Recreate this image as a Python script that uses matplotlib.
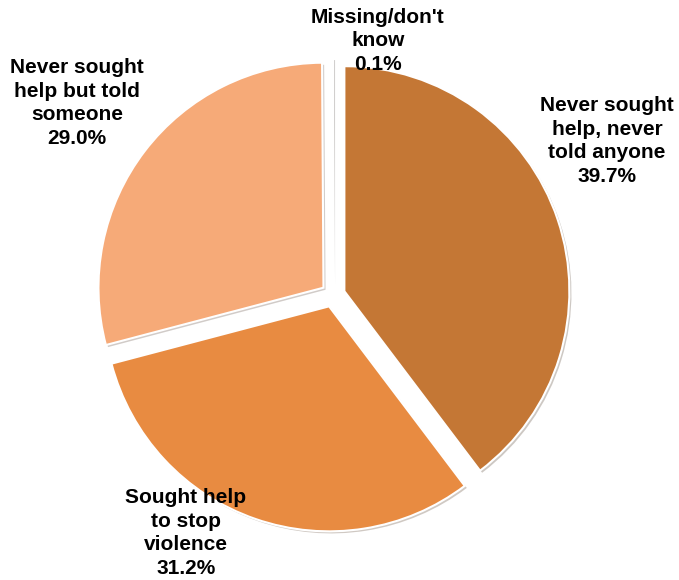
import matplotlib.pyplot as plt
from matplotlib import patheffects as pe

# help-seeking after violence
labels = ["Never sought\nhelp, never\ntold anyone",
          "Sought help\nto stop\nviolence",
          "Never sought\nhelp but told\nsomeone",
          "Missing/don't\nknow"]
shares = [39.7, 31.2, 29.0, 0.1]
colors = ["#C47735", "#E88B41", "#F6AA78", "#FBE0CC"]

# label centres in pixel coords (y measured from bottom)
label_xy = [(607, 439), (186, 47), (77, 477), (378, 539)]

W, H = 679, 580
fig = plt.figure(figsize=(W / 100, H / 100), dpi=100)
ax = fig.add_axes([0, 0, 1, 1])

shadow = [pe.SimplePatchShadow(offset=(1.5, -1.5), alpha=0.25), pe.Normal()]
# explode distances are in data units here (pixels)
wedges, _ = ax.pie(shares, colors=colors, startangle=90, counterclock=False,
                   center=(333, 285), radius=225,
                   explode=[12, 12, 12, 12],
                   wedgeprops=dict(edgecolor="white", linewidth=1.5,
                                   path_effects=shadow))

for lab, val, (x, y) in zip(labels, shares, label_xy):
    ax.text(x, y, f"{lab}\n{val:.1f}%", ha="center", va="center",
            multialignment="center", fontsize=15, fontweight="bold",
            family="Liberation Sans", linespacing=1.3)

ax.set_xlim(0, W)
ax.set_ylim(0, H)
ax.set_aspect("equal")
ax.axis("off")

fig.savefig("out.png", dpi=100, facecolor="white")
